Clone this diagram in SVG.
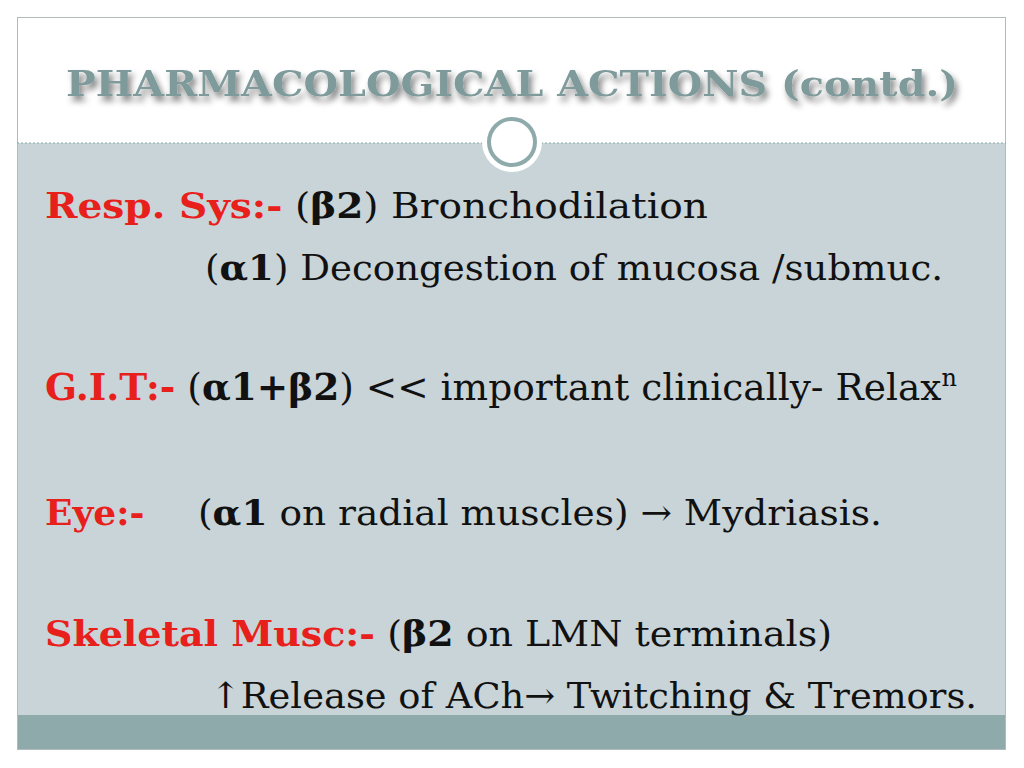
<svg xmlns="http://www.w3.org/2000/svg" width="1024" height="768" viewBox="0 0 1024 768">
<defs>
<filter id="sh" x="-5%" y="-30%" width="110%" height="160%"><feGaussianBlur in="SourceAlpha" stdDeviation="3"/><feOffset dx="3" dy="5"/><feComponentTransfer><feFuncA type="linear" slope="0.5"/></feComponentTransfer><feMerge><feMergeNode/><feMergeNode in="SourceGraphic"/></feMerge></filter>
</defs>
<style>
.t{font-family:"DejaVu Serif","Liberation Serif",serif;font-size:36px;fill:#111}
.r{fill:#e8201c;font-weight:bold}
.b{font-weight:bold}
</style>
<rect width="1024" height="768" fill="#fff"/>
<rect x="17" y="143" width="989" height="607" fill="#c8d4d8"/>
<rect x="17" y="715" width="989" height="35" fill="#8eaaaa"/>
<rect x="17.5" y="17.5" width="988" height="732" fill="none" stroke="#b0bcbc"/>
<line x1="17" y1="143" x2="1006" y2="143" stroke="#8aa" stroke-dasharray="2,2"/>
<circle cx="512" cy="142" r="30" fill="#fff"/>
<circle cx="512" cy="142" r="23" fill="#fff" stroke="#8eaaaa" stroke-width="4"/>
<text x="512" y="96" text-anchor="middle" filter="url(#sh)" style="font-family:'DejaVu Serif','Liberation Serif',serif;font-size:36px;font-weight:bold;fill:#7f9a9a" textLength="892" lengthAdjust="spacingAndGlyphs">PHARMACOLOGICAL ACTIONS (contd.)</text>
<g id="resp">
<text class="t" x="45" y="218" textLength="663" lengthAdjust="spacingAndGlyphs"><tspan class="r">Resp. Sys:-</tspan>  (<tspan class="b">β2</tspan>) Bronchodilation</text>
<text class="t" x="205" y="280" textLength="738" lengthAdjust="spacingAndGlyphs">(<tspan class="b">α1</tspan>) Decongestion of mucosa /submuc.</text>
</g>
<g id="git"><text class="t" x="45" y="400" style="font-size:37.5px"><tspan class="r">G.I.T:-</tspan> (<tspan class="b">α1+β2</tspan>) &lt;&lt; important clinically- Relax<tspan font-size="24" dy="-14">n</tspan></text></g>
<g id="eye"><text class="t r" x="45" y="525">Eye:-</text><text class="t" x="198" y="525" textLength="684" lengthAdjust="spacingAndGlyphs">(<tspan class="b">α1</tspan> on radial muscles) → Mydriasis.</text></g>
<g id="skel">
<text class="t" x="45" y="646" textLength="787" lengthAdjust="spacingAndGlyphs"><tspan class="r">Skeletal Musc:-</tspan> (<tspan class="b">β2</tspan> on LMN terminals)</text>
<text class="t" x="210" y="708" textLength="767" lengthAdjust="spacingAndGlyphs">↑Release of ACh→ Twitching &amp; Tremors.</text>
</g>
</svg>
